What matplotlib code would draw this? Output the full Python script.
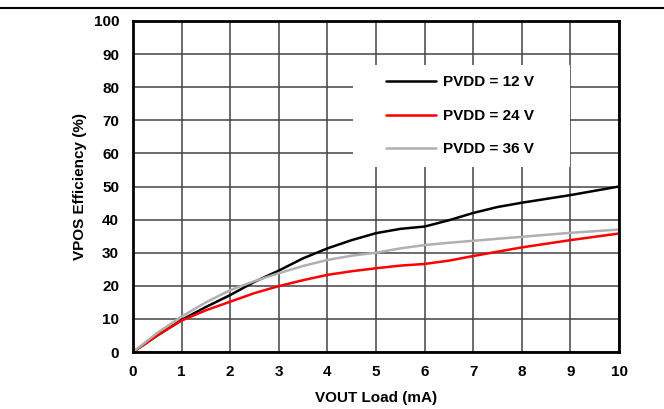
import numpy as np
import matplotlib.pyplot as plt
from matplotlib.patches import Rectangle

plt.rcParams['font.family'] = ['Liberation Sans', 'DejaVu Sans']

load_ma = [0, 0.5, 1, 1.5, 2, 2.5, 3, 3.5, 4, 4.5, 5, 5.5, 6, 6.5, 7, 7.5, 8, 9, 10]
eff_12v = [0, 5, 9.7, 13.6, 17.2, 21.2, 24.6, 28.3, 31.3, 33.8, 35.9, 37.2, 37.9, 39.8, 42.0, 43.8, 45.1, 47.4, 50.0]
eff_24v = [0, 5, 9.5, 12.6, 15.2, 17.8, 19.9, 21.7, 23.3, 24.4, 25.3, 26.1, 26.6, 27.6, 29.0, 30.3, 31.6, 33.8, 35.8]
eff_36v = [0, 5.8, 10.7, 15.0, 18.7, 21.4, 23.8, 26.0, 27.8, 29.1, 30.0, 31.3, 32.3, 33.0, 33.6, 34.2, 34.8, 36.0, 37.0]
labels = ["PVDD = 12 V", "PVDD = 24 V", "PVDD = 36 V"]
colors = ["black", "#ff0000", "#b0b0b0"]

fig = plt.figure(figsize=(6.64, 4.09), dpi=100)
ax = fig.add_axes([133 / 664, 1 - 352 / 409, 486 / 664, 331 / 409])

for y, lab, c in zip([eff_12v, eff_24v, eff_36v], labels, colors):
    ax.plot(load_ma, y, color=c, lw=1.8, label=lab, solid_capstyle="round", zorder=3)

ax.set_xlim(0, 10)
ax.set_ylim(0, 100)
ax.set_xticks(np.arange(0, 11, 1))
ax.set_yticks(np.arange(0, 101, 10))
ax.grid(True, color="#444444", lw=1.1)
ax.set_axisbelow(True)
ax.tick_params(length=0, labelsize=11)
ax.tick_params(axis="y", pad=10)
ax.tick_params(axis="x", pad=9)
for t in ax.get_xticklabels() + ax.get_yticklabels():
    t.set_fontweight("bold")
for s in ax.spines.values():
    s.set_linewidth(2)
    s.set_color("black")
    s.set_zorder(4)

ax.set_xlabel("VOUT Load (mA)", fontsize=11, fontweight="bold", labelpad=9)
ax.set_ylabel("VPOS Efficiency (%)", fontsize=11, fontweight="bold", labelpad=5)

# white box behind the legend, hides the grid
ax.add_patch(Rectangle((0.453, 0.559), 0.446, 0.308, transform=ax.transAxes,
                       facecolor="white", edgecolor="none", zorder=2))

leg = ax.legend(loc="upper left", bbox_to_anchor=(0.489, 0.882), frameon=False,
                fontsize=11, handlelength=3.3, labelspacing=1.28,
                borderpad=0.5, handletextpad=0.45)
for t in leg.get_texts():
    t.set_fontweight("bold")

fig.add_artist(plt.Line2D([0, 1], [1 - 8 / 409, 1 - 8 / 409], color="black", lw=1.5))

fig.savefig("out.png", dpi=100)
